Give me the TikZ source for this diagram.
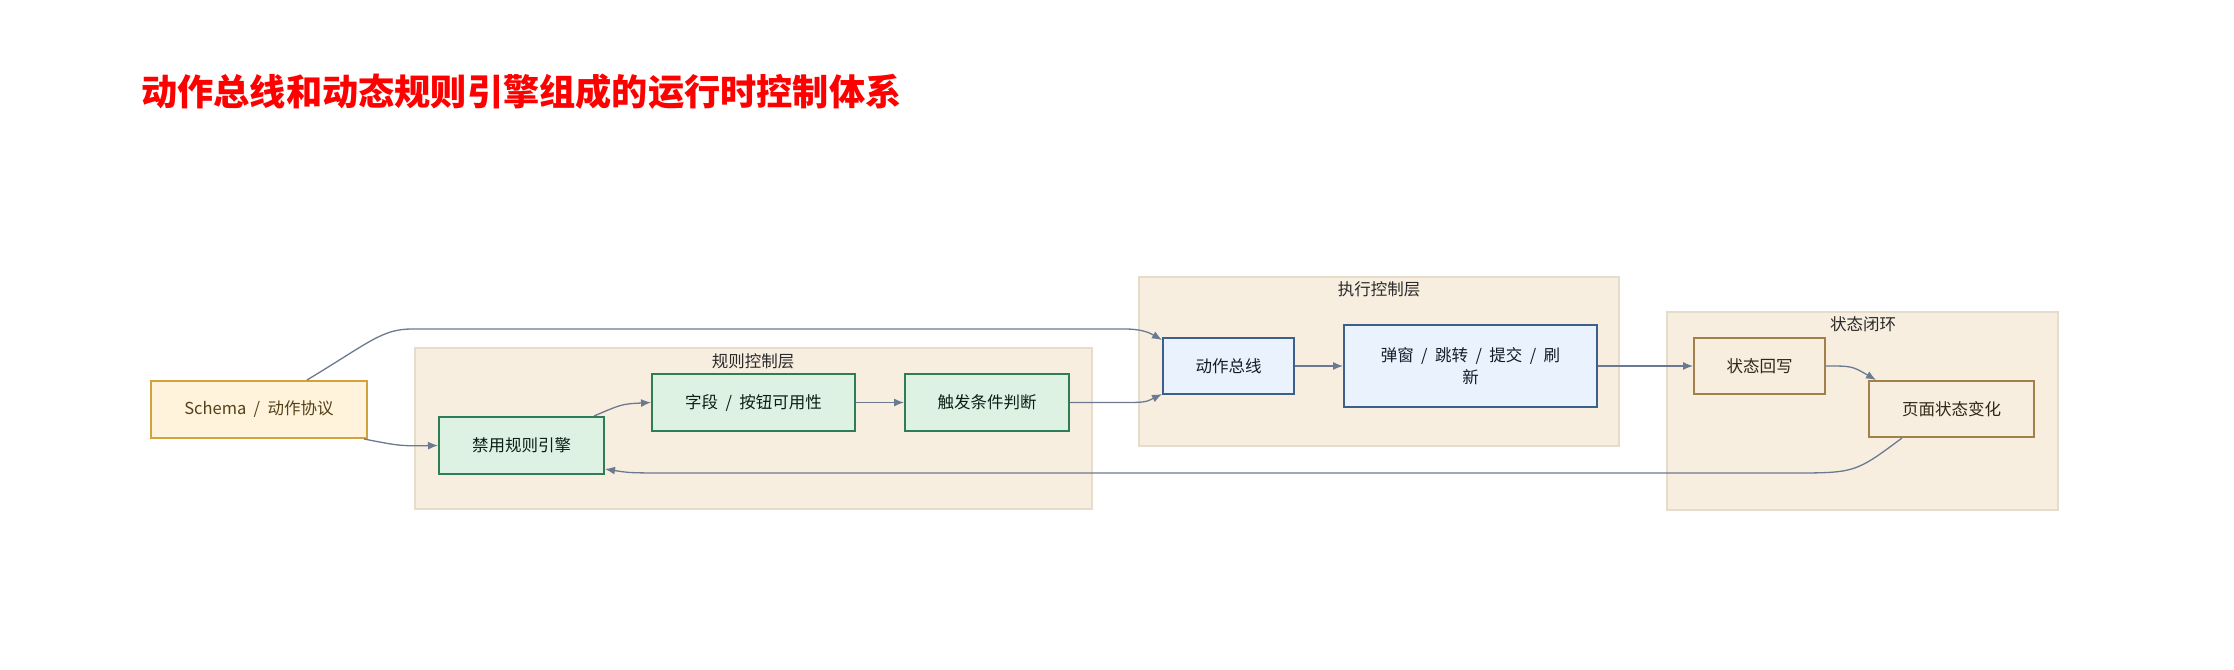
\documentclass[tikz,border=0pt]{standalone}
\usepackage{fontspec}
\setmainfont{Noto Sans CJK SC}
\usetikzlibrary{arrows.meta,positioning}

\definecolor{layerfill}{HTML}{F7EEE0}
\definecolor{layerdraw}{HTML}{E6DCCB}
\definecolor{srcfill}{HTML}{FFF3DC}
\definecolor{srcdraw}{HTML}{D3A13E}
\definecolor{rulefill}{HTML}{DEF2E4}
\definecolor{ruledraw}{HTML}{2F7D57}
\definecolor{execfill}{HTML}{EAF2FE}
\definecolor{execdraw}{HTML}{3C5F8C}
\definecolor{loopdraw}{HTML}{A2804C}
\definecolor{edgecol}{HTML}{6B7A90}
\definecolor{txtcol}{HTML}{2A2A2A}

% slash with wide spaces
\newcommand{\slsep}{\hspace{0.45em}/\hspace{0.45em}}

\begin{document}
\begin{tikzpicture}[
  x=1pt, y=-1pt,
  font=\fontsize{16.5}{22}\selectfont, text=txtcol,
  layer/.style={draw=layerdraw, fill=layerfill, line width=1.2pt},
  layerlabel/.style={inner sep=0pt},
  box/.style={rectangle, line width=2pt, minimum height=57pt, inner sep=2pt,
              align=center},
  srcbox/.style={box, draw=srcdraw, fill=srcfill, text=srcdraw!40!black},
  rulebox/.style={box, draw=ruledraw, fill=rulefill, text=ruledraw!25!black},
  execbox/.style={box, draw=execdraw, fill=execfill, text=execdraw!30!black},
  loopbox/.style={box, draw=loopdraw, fill=layerfill, text=loopdraw!30!black},
  arrow/.style={-{Latex[length=10pt,width=8pt]}, line width=1.3pt, draw=edgecol},
]
  \useasboundingbox (0,0) rectangle (2234,669);

  % title
  \node[anchor=west, inner sep=0pt, text=red,
        font=\fontsize{36.2}{42}\selectfont\bfseries] (title) at (141,92)
        {动作总线和动态规则引擎组成的运行时控制体系};

  % layers
  \draw[layer] (415,348) rectangle (1092,509);
  \node[layerlabel] (rulelabel) at (753,361) {规则控制层};
  \draw[layer] (1139,277) rectangle (1619,446);
  \node[layerlabel] (execlabel) at (1379,289) {执行控制层};
  \draw[layer] (1667,312) rectangle (2058,510);
  \node[layerlabel] (looplabel) at (1863,324) {状态闭环};

  % nodes
  \node[srcbox, minimum width=216pt] (schema) at (259,409.5) {Schema\slsep 动作协议};
  \node[rulebox, minimum width=165pt] (ban) at (521.5,445.5) {禁用规则引擎};
  \node[rulebox, minimum width=203pt] (field) at (753.5,402.5) {字段\slsep 按钮可用性};
  \node[rulebox, minimum width=164pt, right=48pt of field] (trigger) {触发条件判断};
  \node[execbox, minimum width=131pt, minimum height=56pt] (bus) at (1228.5,366) {动作总线};
  \node[execbox, minimum width=253pt, minimum height=82pt, right=48pt of bus] (act)
       {弹窗\slsep 跳转\slsep 提交\slsep 刷\\新};
  \node[loopbox, minimum width=131pt, minimum height=56pt, right=95pt of act] (writeback) {状态回写};
  \node[loopbox, minimum width=165pt, minimum height=56pt] (pagestate) at (1951.5,409) {页面状态变化};

  % connectors
  \draw[arrow] ([xshift=48pt]schema.north) .. controls (370,342) and (382,329) .. (412,329)
    -- (1125,329) .. controls (1142,329) and (1150,333) .. ([yshift=26pt]bus.west);
  \draw[arrow] ([xshift=-4pt]schema.south east) .. controls (400,446) .. (ban.west);
  \draw[arrow] ([xshift=-11pt]ban.north east) .. controls (622,404) .. (field.west);
  \draw[arrow] (field) -- (trigger);
  \draw[arrow] (trigger.east) -- (1118,402.5) .. controls (1145,402.5) .. ([yshift=-28pt]bus.west);
  \draw[arrow] (bus) -- (act);
  \draw[arrow] (act) -- (writeback);
  \draw[arrow] (writeback.east) .. controls (1852,366) .. ([xshift=8pt]pagestate.north west);
  \draw[arrow] ([xshift=34pt]pagestate.south west) .. controls (1855,473) .. (1790,473)
    -- (680,473) .. controls (630,473) .. ([yshift=-23.5pt]ban.east);
\end{tikzpicture}
\end{document}
